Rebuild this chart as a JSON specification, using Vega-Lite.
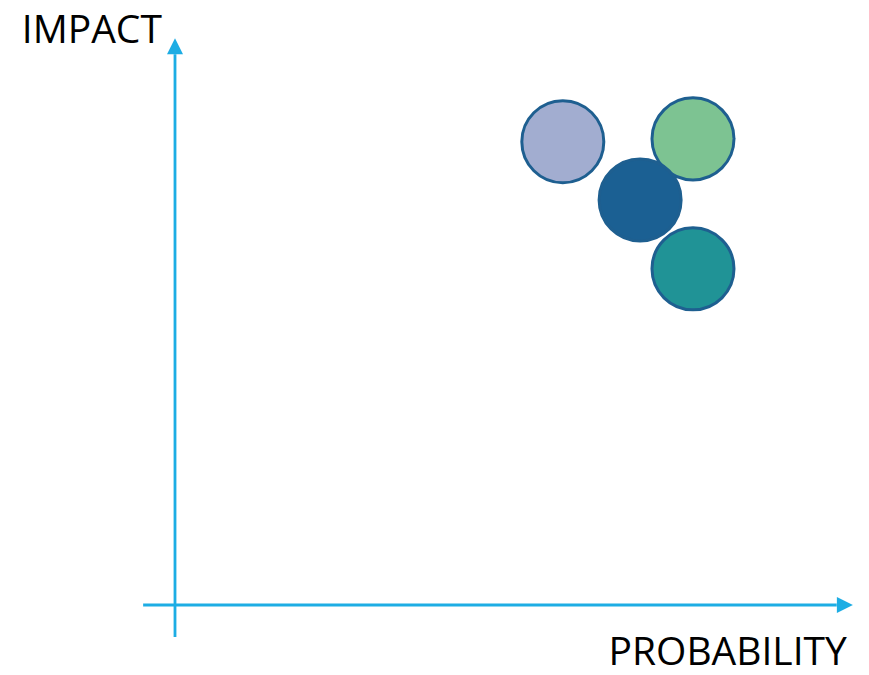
{
  "$schema": "https://vega.github.io/schema/vega-lite/v6.json",
  "width": 678,
  "height": 565,
  "autosize": {"type": "none"},
  "padding": {"left": 175, "top": 40, "right": 16, "bottom": 70},
  "background": "white",
  "config": {"view": {"stroke": null}},
  "datasets": {
    "axes": [
      {"name": "impact", "x1": 0, "x2": 0, "y1": -5.66, "y2": 97.5},
      {"name": "probability", "x1": -4.7, "x2": 97.6, "y1": 0, "y2": 0}
    ],
    "heads": [
      {"dir": "up", "x": 0, "y": 98.9},
      {"dir": "right", "x": 98.8, "y": 0}
    ],
    "labels": [
      {"text": "IMPACT", "x": -22.6, "y": 99.4, "side": "left"},
      {"text": "PROBABILITY", "x": 99.1, "y": -10.6, "side": "right"}
    ],
    "risks": [
      {"risk": "Risk A", "probability": 57.2, "impact": 82.0},
      {"risk": "Risk B", "probability": 76.4, "impact": 82.5},
      {"risk": "Risk C", "probability": 68.6, "impact": 71.7},
      {"risk": "Risk D", "probability": 76.4, "impact": 59.5}
    ]
  },
  "layer": [
    {
      "data": {"name": "axes"},
      "mark": {"type": "rule", "color": "#1DADE4", "strokeWidth": 2.8},
      "encoding": {
        "x": {"field": "x1", "type": "quantitative", "scale": {"domain": [0, 100], "nice": false, "zero": false}, "axis": null},
        "x2": {"field": "x2"},
        "y": {"field": "y1", "type": "quantitative", "scale": {"domain": [0, 100], "nice": false, "zero": false}, "axis": null},
        "y2": {"field": "y2"}
      }
    },
    {
      "data": {"name": "heads"},
      "mark": {"type": "point", "filled": true, "color": "#1DADE4", "opacity": 1, "size": 256, "strokeWidth": 0},
      "encoding": {
        "x": {"field": "x", "type": "quantitative", "scale": {"domain": [0, 100], "nice": false, "zero": false}, "axis": null},
        "y": {"field": "y", "type": "quantitative", "scale": {"domain": [0, 100], "nice": false, "zero": false}, "axis": null},
        "shape": {"field": "dir", "type": "nominal", "scale": {"domain": ["up", "right"], "range": ["M0,-1L1,1L-1,1Z", "M1,0L-1,-1L-1,1Z"]}, "legend": null}
      }
    },
    {
      "data": {"name": "labels"},
      "transform": [{"filter": "datum.side === 'left'"}],
      "mark": {"type": "text", "font": "Open Sans", "fontSize": 39, "color": "#000000", "baseline": "alphabetic", "align": "left"},
      "encoding": {
        "x": {"field": "x", "type": "quantitative", "scale": {"domain": [0, 100], "nice": false, "zero": false}, "axis": null},
        "y": {"field": "y", "type": "quantitative", "scale": {"domain": [0, 100], "nice": false, "zero": false}, "axis": null},
        "text": {"field": "text"}
      }
    },
    {
      "data": {"name": "labels"},
      "transform": [{"filter": "datum.side === 'right'"}],
      "mark": {"type": "text", "font": "Open Sans", "fontSize": 39, "color": "#000000", "baseline": "alphabetic", "align": "right"},
      "encoding": {
        "x": {"field": "x", "type": "quantitative", "scale": {"domain": [0, 100], "nice": false, "zero": false}, "axis": null},
        "y": {"field": "y", "type": "quantitative", "scale": {"domain": [0, 100], "nice": false, "zero": false}, "axis": null},
        "text": {"field": "text"}
      }
    },
    {
      "data": {"name": "risks"},
      "mark": {"type": "point", "shape": "circle", "filled": true, "opacity": 1, "size": 6724, "stroke": "#1E5F90", "strokeWidth": 3},
      "encoding": {
        "x": {"field": "probability", "type": "quantitative", "scale": {"domain": [0, 100], "nice": false, "zero": false}, "axis": null},
        "y": {"field": "impact", "type": "quantitative", "scale": {"domain": [0, 100], "nice": false, "zero": false}, "axis": null},
        "fill": {"field": "risk", "type": "nominal", "scale": {"domain": ["Risk A", "Risk B", "Risk C", "Risk D"], "range": ["#A2ADD0", "#7DC392", "#1B6093", "#209396"]}, "legend": null}
      }
    }
  ]
}
